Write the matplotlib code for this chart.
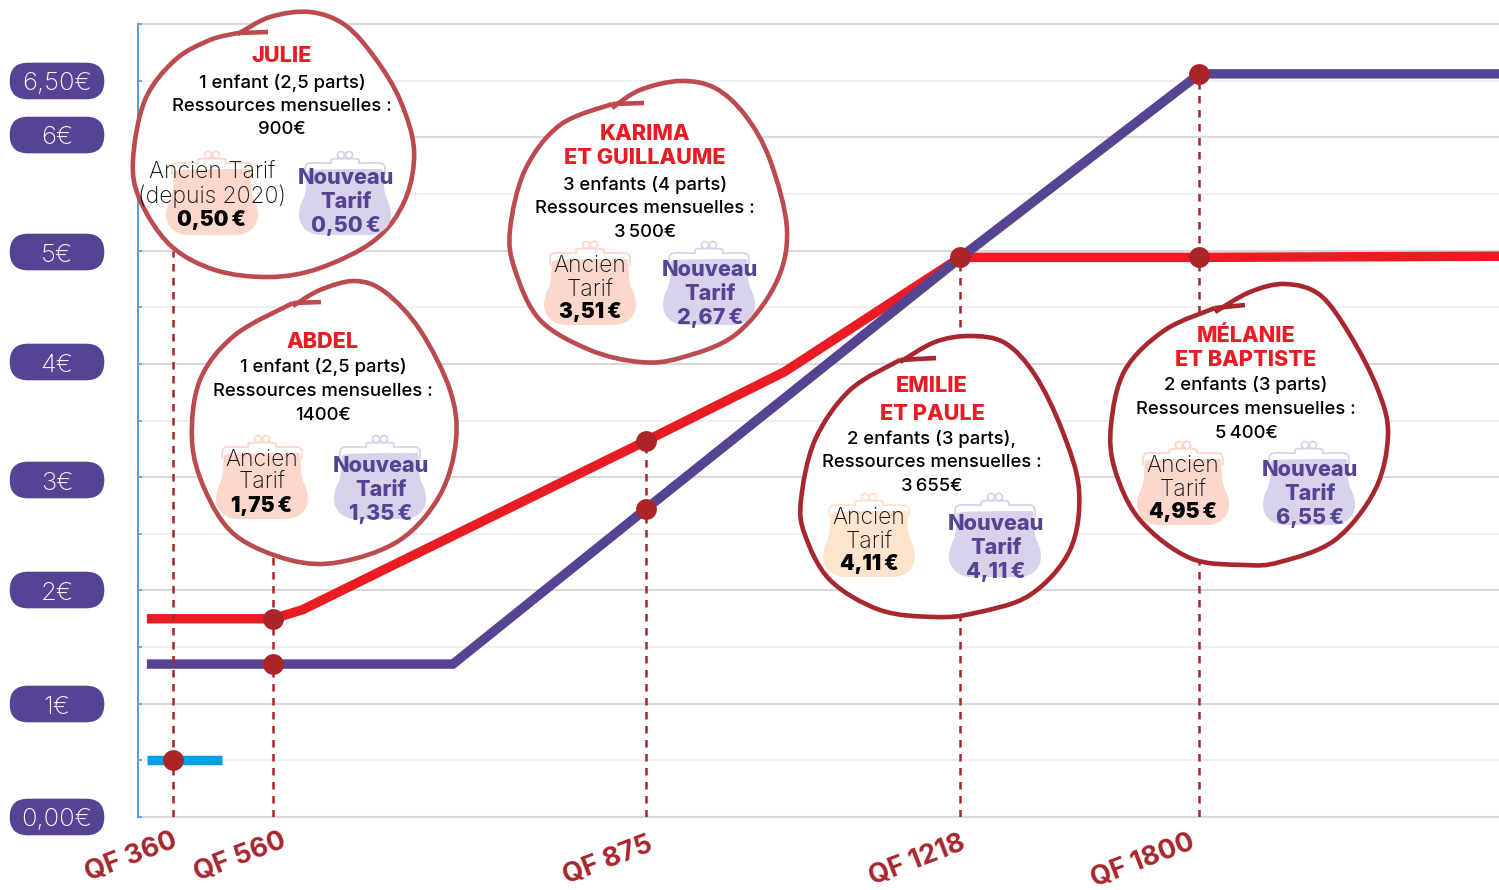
import numpy as np
import matplotlib
matplotlib.use("Agg")
import matplotlib.pyplot as plt
from matplotlib.path import Path
from matplotlib.patches import PathPatch, FancyBboxPatch, Circle

FONT = "Inter"
plt.rcParams["font.family"] = [FONT, "DejaVu Sans"]

# ---------- data ----------
qf_ticks = [360, 560, 875, 1218, 1800]
qf_labels = ["QF 360", "QF 560", "QF 875", "QF 1218", "QF 1800"]
y_ticks = [0, 1, 2, 3, 4, 5, 6, 6.5]
y_labels = ["0,00€", "1€", "2€", "3€", "4€", "5€", "6€", "6,50€"]

red_qf = [308, 560, 585, 875, 1026, 1218, 1800, 2528]
red_val = [1.75, 1.75, 1.83, 3.32, 3.93, 4.94, 4.94, 4.95]
purple_qf = [308, 712, 875, 1218, 1800, 2528]
purple_val = [1.35, 1.35, 2.72, 4.94, 6.56, 6.56]
green_qf = [712, 875, 1218, 1800]
green_val = [1.32, 2.68, 4.89, 6.52]
blue_qf = [308, 458]
blue_val = [0.5, 0.5]
point_qf = [360, 560, 560, 875, 875, 1218, 1800, 1800]
point_val = [0.5, 1.75, 1.35, 3.32, 2.72, 4.94, 4.94, 6.56]
drop_qf = [360, 560, 875, 1218, 1800]
drop_top = [5.0, 3.0, 3.32, 4.94, 6.56]

# ---------- layout ----------
W, H = 1499, 890
fig = plt.figure(figsize=(W / 100, H / 100), dpi=100, facecolor="white")
ax = fig.add_axes([138 / W, (H - 817) / H, (W - 138) / W, (817 - 24) / H])

px_scale = [138, 172.5, 273, 646, 960.5, 1199.5, 1499]
qf_scale = [290, 360, 560, 875, 1218, 1800, 2528]
ax.set_xscale("function", functions=(lambda q: np.interp(q, qf_scale, px_scale),
                                     lambda p: np.interp(p, px_scale, qf_scale)))
ax.set_xlim(290, 2528)
ax.set_ylim(0, 7)
ax.set_xticks([])
ax.minorticks_off()
ax.set_yticks(np.arange(0, 7.5, 0.5))
ax.set_yticklabels([])
ax.tick_params(axis="y", direction="in", length=3, width=1.2, color="#5b9bd5")
for s in ["top", "right", "bottom"]:
    ax.spines[s].set_visible(False)
ax.spines["left"].set_color("#5b9bd5")
ax.spines["left"].set_linewidth(1.4)
ax.set_axisbelow(True)
for v in np.arange(0, 7.5, 0.5):
    strong = float(v).is_integer()
    ax.axhline(v, color="#d9d9d9" if strong else "#f0f0f0", lw=1.5, zorder=0, clip_on=False)

LW = 6.8
ax.plot(green_qf, green_val, color="#8dc63f", lw=1.2, zorder=2)
ax.plot(red_qf, red_val, color="#e91c24", lw=LW, solid_joinstyle="miter", solid_capstyle="butt", zorder=3)
ax.plot(purple_qf, purple_val, color="#574394", lw=LW, solid_joinstyle="miter", solid_capstyle="butt", zorder=4)
ax.plot(blue_qf, blue_val, color="#00a0e3", lw=LW, solid_capstyle="butt", zorder=3)
ax.vlines(drop_qf, 0, drop_top, color="#ab2528", lw=1.8, linestyles=(0, (3.0, 2.6)), zorder=5)
ax.plot(point_qf, point_val, "o", color="#ab2528", ms=15, mew=0, zorder=6)

for q, lab, dx, dy in zip(qf_ticks, qf_labels, [-41, -33, -38, -43, -57], [-40, -40, -43, -43, -44]):
    ax.annotate(lab, xy=(q, 0), xycoords="data", xytext=(dx * 0.72, dy * 0.72), textcoords="offset points",
                rotation=21, rotation_mode="anchor", ha="center", va="center",
                fontsize=19.5, fontweight="bold", color="#a8262d", annotation_clip=False)

# overlay in pixel space for the drawn callouts
ov = fig.add_axes([0, 0, 1, 1], facecolor="none")
ov.set_xlim(0, W)
ov.set_ylim(H, 0)
ov.axis("off")

# y pills
pill_y = [817, 704, 590, 480, 362, 252, 135, 81]
for lab, py in zip(y_labels, pill_y):
    ov.add_patch(FancyBboxPatch((10 + 18, py - 0), 94 - 36, 0.01,
                                boxstyle="round,pad=18.3,rounding_size=18.3", fc="#574394", ec="none", zorder=2))
    ov.text(57, py + 3, lab, color="white", fontsize=18.5, fontweight="light", ha="center", va="center", zorder=3)


def spline(points):
    pts = np.array(points, float)
    verts = [pts[0]]
    codes = [Path.MOVETO]
    n = len(pts)
    for i in range(n - 1):
        p0 = pts[max(i - 1, 0)]
        p1 = pts[i]
        p2 = pts[i + 1]
        p3 = pts[min(i + 2, n - 1)]
        verts += [p1 + (p2 - p0) / 6, p2 - (p3 - p1) / 6, p2]
        codes += [Path.CURVE4] * 3
    return Path(verts, codes)


def bubble(points, color):
    ov.add_patch(PathPatch(spline(points[:-1]), fc="white", ec="none", zorder=4))
    ov.add_patch(PathPatch(spline(points[:-1]), fc="none", ec=color, lw=3.3, zorder=5))
    ov.plot([points[-2][0], points[-1][0]], [points[-2][1], points[-1][1]], color=color, lw=3.3, zorder=5,
            solid_capstyle="butt")


def purse(cx, clasp, color):
    # clasp is the y of the clasp circles, body ends 80 px below
    y = lambda d: clasp + d
    verts = [(cx - 37, y(16)), (cx - 37, y(14)), (cx, y(14)), (cx + 37, y(14)),
             (cx + 40, y(14)), (cx + 37, y(30)), (cx + 41, y(42)),
             (cx + 45, y(50)), (cx + 46, y(55)), (cx + 46, y(60)),
             (cx + 46, y(72)), (cx + 36, y(80)), (cx + 24, y(80)),
             (cx, y(80)), (cx - 24, y(80)), (cx - 24, y(80)),
             (cx - 36, y(80)), (cx - 46, y(72)), (cx - 46, y(60)),
             (cx - 46, y(55)), (cx - 45, y(50)), (cx - 41, y(42)),
             (cx - 37, y(30)), (cx - 40, y(14)), (cx - 37, y(16))]
    codes = [Path.MOVETO] + [Path.CURVE4] * 24
    ov.add_patch(PathPatch(Path(verts, codes), fc=color, ec="none", zorder=6))
    frame = [(cx - 40, y(20)), (cx - 38, y(9)), (cx - 22, y(8)), (cx - 14, y(8)), (cx - 12, y(4)), (cx + 12, y(4)),
             (cx + 14, y(8)), (cx + 22, y(8)), (cx + 38, y(9)), (cx + 40, y(20))]
    ov.add_patch(PathPatch(spline(frame), fc="none", ec=color, lw=1.3, zorder=6))
    for dx in (-4, 4):
        ov.add_patch(Circle((cx + dx, y(0)), 3.5, fc="white", ec=color, lw=1.3, zorder=6))


def write(x, y, s, kind):
    style = {
        "name": dict(color="#e91c24", fontsize=15.6, fontweight="heavy"),
        "body": dict(color="#000000", fontsize=13.3, fontweight="medium"),
        "old": dict(color="#111111", fontsize=16.5, fontweight="light"),
        "oldv": dict(color="#000000", fontsize=15, fontweight="black"),
        "new": dict(color="#574394", fontsize=15.5, fontweight="heavy"),
    }[kind]
    ov.text(x, y + 1.5, s, ha="center", va="center", zorder=8, **style)


PINK, PEACH, LILAC = "#fbd8cb", "#fde4cc", "#d8d3ea"
SOFT, DEEP = "#bb4b4f", "#a8262d"

callouts = [
    dict(color=SOFT,
         outline=[(238, 34), (270, 17), (310, 12), (345, 25), (375, 58), (400, 100), (414, 150), (405, 200), (375, 240),
                  (320, 268), (270, 277), (215, 270), (170, 245), (140, 200), (133, 160), (145, 100), (175, 60),
                  (210, 40), (238, 33), (268, 32)],
         names=[("JULIE", 55)], body_x=282,
         body=[("1 enfant (2,5 parts)", 81), ("Ressources mensuelles :", 105), ("900€", 128)],
         old=(212, 155, PINK, [("Ancien Tarif", 171), ("(depuis 2020)", 195)], ("0,50\u2009€", 218)),
         new=(345, 155, [("Nouveau", 177), ("Tarif", 200), ("0,50\u2009€", 224)])),
    dict(color=SOFT,
         outline=[(612, 108), (640, 90), (680, 81), (715, 88), (745, 115), (770, 160), (787, 230), (775, 285), (735, 335),
                  (680, 358), (640, 362), (590, 350), (540, 320), (515, 270), (510, 230), (525, 170), (560, 125),
                  (612, 104), (644, 103)],
         names=[("KARIMA", 133), ("ET GUILLAUME", 157)], body_x=645,
         body=[("3 enfants (4 parts)", 183), ("Ressources mensuelles :", 207), ("3\u2009500€", 231)],
         old=(590, 245, PINK, [("Ancien", 264), ("Tarif", 288)], ("3,51\u2009€", 310)),
         new=(709, 245, [("Nouveau", 269), ("Tarif", 293), ("2,67\u2009€", 317)])),
    dict(color=SOFT,
         outline=[(293, 306), (320, 290), (355, 281), (385, 292), (420, 330), (450, 390), (456, 440), (440, 495), (400, 540),
                  (340, 562), (290, 560), (235, 535), (205, 490), (192, 440), (200, 380), (235, 335), (293, 303),
                  (321, 302)],
         names=[("ABDEL", 341)], body_x=323,
         body=[("1 enfant (2,5 parts)", 366), ("Ressources mensuelles :", 390), ("1400€", 414)],
         old=(262, 439, PINK, [("Ancien", 458), ("Tarif", 481)], ("1,75\u2009€", 504)),
         new=(380, 439, [("Nouveau", 464), ("Tarif", 488), ("1,35\u2009€", 512)])),
    dict(color=DEEP,
         outline=[(900, 362), (935, 342), (970, 336), (1005, 343), (1035, 375), (1062, 430), (1079, 490), (1070, 550),
                  (1030, 595), (975, 613), (935, 617), (880, 610), (830, 580), (805, 535), (801, 500), (815, 440),
                  (850, 390), (900, 360), (936, 358)],
         names=[("EMILIE", 385), ("ET PAULE", 412)], body_x=932,
         body=[("2 enfants (3 parts),", 437), ("Ressources mensuelles :", 461), ("3\u2009655€", 485)],
         old=(869, 497, PEACH, [("Ancien", 516), ("Tarif", 540)], ("4,11\u2009€", 562)),
         new=(995, 497, [("Nouveau", 522), ("Tarif", 546), ("4,11\u2009€", 570)])),
    dict(color=DEEP,
         outline=[(1215, 312), (1250, 292), (1285, 284), (1320, 295), (1350, 335), (1378, 390), (1388, 435), (1375, 490),
                  (1335, 540), (1280, 562), (1245, 565), (1190, 558), (1140, 520), (1115, 470), (1111, 425), (1125, 370),
                  (1165, 330), (1215, 308), (1245, 305)],
         names=[("MÉLANIE", 335), ("ET BAPTISTE", 359)], body_x=1246,
         body=[("2 enfants (3 parts)", 384), ("Ressources mensuelles :", 408), ("5\u2009400€", 432)],
         old=(1183, 445, PINK, [("Ancien", 464), ("Tarif", 488)], ("4,95\u2009€", 510)),
         new=(1309, 445, [("Nouveau", 469), ("Tarif", 493), ("6,55\u2009€", 517)])),
]

for c in callouts:
    bubble(c["outline"], c["color"])
    for s, y in c["names"]:
        write(c["body_x"], y, s, "name")
    for s, y in c["body"]:
        write(c["body_x"], y, s, "body")
    ox, oy, ocol, olines, (ov_s, ov_y) = c["old"]
    purse(ox, oy, ocol)
    for s, y in olines:
        write(ox, y, s, "old")
    write(ox, ov_y, ov_s, "oldv")
    nx, ny, nlines = c["new"]
    purse(nx, ny, LILAC)
    for s, y in nlines:
        write(nx + 1, y, s, "new")

fig.savefig("out.png", dpi=100)
